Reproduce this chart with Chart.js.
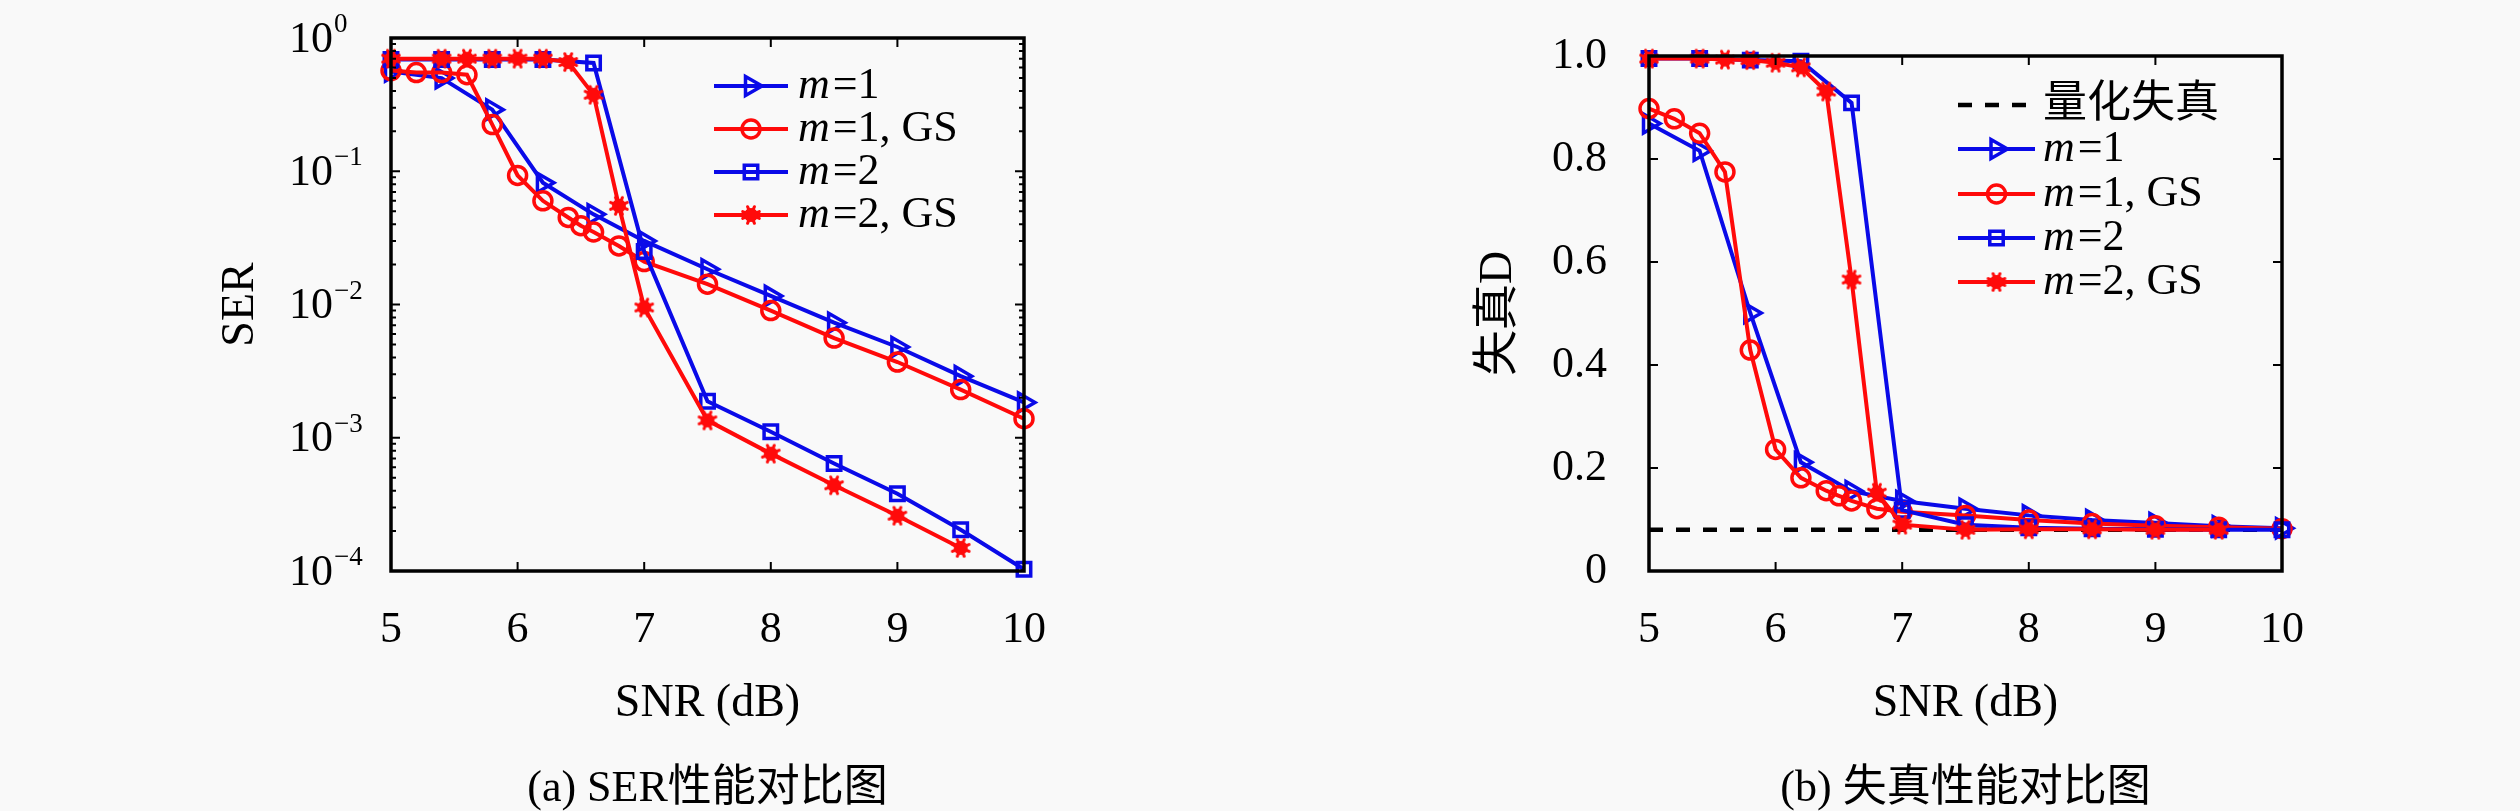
<!DOCTYPE html>
<html>
<head>
<meta charset="utf-8">
<script src="https://cdn.jsdelivr.net/npm/chart.js@4.4.0/dist/chart.umd.min.js"></script>
<style>
  html, body { margin: 0; padding: 0; background: #f9f9f9; width: 2520px; height: 811px; overflow: hidden; }
  canvas { position: absolute; top: 0; }
  #ser { left: 0; }
  #dist { left: 1258px; }
</style>
</head>
<body>
<canvas id="ser" width="1260" height="811"></canvas>
<canvas id="dist" width="1260" height="811"></canvas>
<script>
// SNR grids (dB) - the GS runs were sampled more densely near the waterfall
const snrM1 = [5, 5.4, 5.8, 6.2, 6.6, 7, 7.5, 8, 8.5, 9, 9.5, 10];
const snrM1GS = [5, 5.2, 5.4, 5.6, 5.8, 6, 6.2, 6.4, 6.5, 6.6, 6.8, 7, 7.5, 8, 8.5, 9, 9.5, 10];
const snrM2 = [5, 5.4, 5.8, 6.2, 6.6, 7, 7.5, 8, 8.5, 9, 9.5, 10];
const snrM2GS = [5, 5.4, 5.6, 5.8, 6, 6.2, 6.4, 6.6, 6.8, 7, 7.5, 8, 8.5, 9, 9.5];
const snrQuant = [5, 10];

// (a) SER
const serM1 = [0.56, 0.50, 0.29, 0.082, 0.0475, 0.030, 0.0184, 0.0116, 0.0073, 0.0048, 0.0029, 0.00184];
const serM1GS = [0.57, 0.55, 0.55, 0.53, 0.224, 0.093, 0.060, 0.045, 0.039, 0.035, 0.0275, 0.021, 0.0142, 0.0090, 0.0056, 0.0037, 0.0023, 0.00139];
const serM2 = [0.69, 0.69, 0.69, 0.69, 0.65, 0.025, 0.00188, 0.00111, 0.00064, 0.00038, 0.000204, 0.000103];
const serM2GS = [0.70, 0.70, 0.70, 0.70, 0.70, 0.70, 0.66, 0.375, 0.055, 0.0095, 0.00135, 0.00076, 0.00044, 0.00026, 0.000149];

// (b) distortion D
const distM1 = [0.869, 0.816, 0.501, 0.211, 0.155, 0.136, 0.121, 0.108, 0.099, 0.093, 0.087, 0.083];
const distM1GS = [0.898, 0.878, 0.85, 0.775, 0.429, 0.236, 0.181, 0.156, 0.146, 0.136, 0.121, 0.115, 0.108, 0.099, 0.092, 0.088, 0.085, 0.082];
const distM2 = [0.995, 0.995, 0.992, 0.99, 0.909, 0.118, 0.090, 0.084, 0.082, 0.081, 0.080, 0.080];
const distM2GS = [0.995, 0.995, 0.993, 0.992, 0.987, 0.978, 0.931, 0.566, 0.152, 0.090, 0.080, 0.081, 0.081, 0.080, 0.080];
const distQuant = [0.08, 0.08];

const xTicks = [5, 6, 7, 8, 9, 10];
const serDecades = [0, -1, -2, -3, -4];
const distTicks = [0, 0.2, 0.4, 0.6, 0.8, 1.0];

const labels = ['m=1', 'm=1, GS', 'm=2', 'm=2, GS'];
const quantLabel = '量化失真';
const captionA = '(a) SER性能对比图';
const captionB = '(b) 失真性能对比图';

const BLUE = '#0a0ae8';
const RED = '#ff0a0a';
const SERIF = "'Liberation Serif', 'Times New Roman', serif, 'Noto Sans CJK SC'";

function pts(xs, ys) {
  return xs.map((x, i) => ({ x: x, y: ys[i] }));
}

function makeStar(color) {
  const c = document.createElement('canvas');
  c.width = 24; c.height = 24;
  const g = c.getContext('2d');
  g.strokeStyle = color; g.fillStyle = color; g.lineWidth = 3; g.lineCap = 'round';
  for (let k = 0; k < 8; k++) {
    const a = k * Math.PI / 4 + Math.PI / 8;
    g.beginPath();
    g.moveTo(12, 12);
    g.lineTo(12 + 9 * Math.cos(a), 12 + 9 * Math.sin(a));
    g.stroke();
  }
  g.beginPath(); g.arc(12, 12, 7, 0, 2 * Math.PI); g.fill();
  return c;
}
const starRed = makeStar(RED);

function seriesSets(xsList, ysList) {
  return [
    { label: labels[0], data: pts(xsList[0], ysList[0]), borderColor: BLUE, pointStyle: 'triangle', pointRotation: 90, pointRadius: 11, order: 4 },
    { label: labels[1], data: pts(xsList[1], ysList[1]), borderColor: RED, pointStyle: 'circle', pointRadius: 9, order: 3 },
    { label: labels[2], data: pts(xsList[2], ysList[2]), borderColor: BLUE, pointStyle: 'rect', pointRadius: 9.5, order: 2 },
    { label: labels[3], data: pts(xsList[3], ysList[3]), borderColor: RED, pointStyle: starRed, pointRadius: 9, order: 1 }
  ].map(d => Object.assign({
    borderWidth: 4, pointBorderWidth: 3.5, pointBorderColor: d.borderColor,
    pointBackgroundColor: 'rgba(0,0,0,0)', tension: 0, clip: false
  }, d));
}

function drawLabel(ctx, text, x, y) {
  ctx.textBaseline = 'middle';
  ctx.textAlign = 'left';
  ctx.fillStyle = '#000';
  if (text.startsWith('m=')) {
    ctx.font = 'italic 44px ' + SERIF;
    ctx.fillText('m', x, y);
    const w = ctx.measureText('m').width + 3;
    ctx.font = '44px ' + SERIF;
    ctx.fillText(text.slice(1), x + w, y);
  } else {
    ctx.font = '44px ' + SERIF;
    ctx.fillText(text, x, y);
  }
}

// frame, inward ticks, log labels and the in-plot legend
const deco = {
  id: 'deco',
  afterDraw(chart, args, opts) {
    const ctx = chart.ctx;
    const a = chart.chartArea;
    const xs = chart.scales.x, ys = chart.scales.y;
    ctx.save();
    ctx.strokeStyle = '#000';
    ctx.setLineDash([]);
    ctx.lineWidth = 2;
    ctx.beginPath();
    opts.xTicks.forEach(v => {
      const px = xs.getPixelForValue(v);
      ctx.moveTo(px, a.bottom); ctx.lineTo(px, a.bottom - 9);
      ctx.moveTo(px, a.top); ctx.lineTo(px, a.top + 9);
    });
    opts.yTicks.forEach(v => {
      const py = ys.getPixelForValue(v);
      ctx.moveTo(a.left, py); ctx.lineTo(a.left + 9, py);
      ctx.moveTo(a.right, py); ctx.lineTo(a.right - 9, py);
    });
    (opts.yMinor || []).forEach(v => {
      const py = ys.getPixelForValue(v);
      ctx.moveTo(a.left, py); ctx.lineTo(a.left + 5, py);
      ctx.moveTo(a.right, py); ctx.lineTo(a.right - 5, py);
    });
    ctx.stroke();
    ctx.lineWidth = 3.5;
    ctx.strokeRect(a.left, a.top, a.right - a.left, a.bottom - a.top);

    if (opts.logLabels) {
      ctx.fillStyle = '#000';
      ctx.textBaseline = 'middle';
      opts.logLabels.forEach(e => {
        const py = ys.getPixelForValue(Math.pow(10, e));
        ctx.font = '44px ' + SERIF;
        ctx.textAlign = 'right';
        ctx.fillText('10', a.left - 58, py + 2);
        ctx.font = '27px ' + SERIF;
        ctx.textAlign = 'left';
        ctx.fillText(e === 0 ? '0' : '\u2212' + (-e), a.left - 57, py - 13);
      });
    }

    const lg = opts.legend;
    chart.data.datasets.forEach((d, i) => {
      const y = lg.rows[i];
      ctx.strokeStyle = d.borderColor;
      ctx.lineWidth = d.borderWidth;
      ctx.setLineDash(d.borderDash || []);
      ctx.beginPath(); ctx.moveTo(lg.x0, y); ctx.lineTo(lg.x1, y); ctx.stroke();
      ctx.setLineDash([]);
      if (d.pointRadius > 0) {
        ctx.lineWidth = d.pointBorderWidth;
        ctx.fillStyle = 'rgba(0,0,0,0)';
        Chart.helpers.drawPoint(ctx, {
          pointStyle: d.pointStyle, rotation: d.pointRotation || 0,
          radius: d.pointRadius, borderWidth: d.pointBorderWidth
        }, (lg.x0 + lg.x1) / 2, y);
      }
      drawLabel(ctx, d.label, lg.textX, y);
    });
    ctx.restore();
  }
};

function baseOptions(caption, yScale, yTitle, decoOpts) {
  return {
    responsive: false,
    animation: false,
    devicePixelRatio: 1,
    layout: { padding: { left: 200, right: 236, top: 38, bottom: 0 } },
    scales: {
      x: {
        type: 'linear', min: 5, max: 10,
        ticks: { stepSize: 1, color: '#000', padding: 29, font: { family: SERIF, size: 44, lineHeight: 1 } },
        grid: { display: false }, border: { display: false },
        title: { display: true, text: 'SNR (dB)', color: '#000', padding: { top: 0, bottom: 40 }, font: { family: SERIF, size: 46, lineHeight: 1 } },
        afterFit: s => { s.height = 196; }
      },
      y: Object.assign({
        grid: { display: false }, border: { display: false },
        title: { display: true, text: yTitle, color: '#000', padding: { top: 18, bottom: 0 }, font: { family: SERIF, size: 46, lineHeight: 1 } },
        afterFit: s => { s.width = 191; }
      }, yScale)
    },
    plugins: {
      legend: { display: false },
      tooltip: { enabled: false },
      title: { display: true, text: caption, position: 'bottom', fullSize: false, color: '#000', padding: 0, font: { family: SERIF, size: 44, lineHeight: 1, weight: 'normal' } },
      deco: decoOpts
    }
  };
}

const serMinor = [];
[-4, -3, -2, -1].forEach(e => { for (let k = 2; k <= 9; k++) serMinor.push(k * Math.pow(10, e)); });

new Chart(document.getElementById('ser'), {
  type: 'line',
  data: { datasets: seriesSets([snrM1, snrM1GS, snrM2, snrM2GS], [serM1, serM1GS, serM2, serM2GS]) },
  options: baseOptions(captionA,
    { type: 'logarithmic', min: 1e-4, max: 1, ticks: { display: false } },
    'SER',
    { xTicks: xTicks, yTicks: serDecades.map(e => Math.pow(10, e)), yMinor: serMinor, logLabels: serDecades,
      legend: { x0: 714, x1: 788, textX: 798, rows: [86, 129, 172, 215] } }),
  plugins: [deco]
});

const distSets = seriesSets([snrM1, snrM1GS, snrM2, snrM2GS], [distM1, distM1GS, distM2, distM2GS]);
distSets.unshift({
  label: quantLabel, data: pts(snrQuant, distQuant), borderColor: '#000', borderWidth: 4.5,
  borderDash: [14, 13], pointRadius: 0, order: 5, clip: false
});

new Chart(document.getElementById('dist'), {
  type: 'line',
  data: { datasets: distSets },
  options: baseOptions(captionB,
    { type: 'linear', min: 0, max: 1,
      ticks: { stepSize: 0.2, color: '#000', padding: 34, font: { family: SERIF, size: 44, lineHeight: 1 },
               callback: v => (v === 0 ? '0' : v.toFixed(1)) } },
    '失真D',
    { xTicks: xTicks, yTicks: distTicks,
      legend: { x0: 700, x1: 777, textX: 785, rows: [105, 149, 194, 238, 282] } }),
  plugins: [deco]
});
</script>
</body>
</html>
